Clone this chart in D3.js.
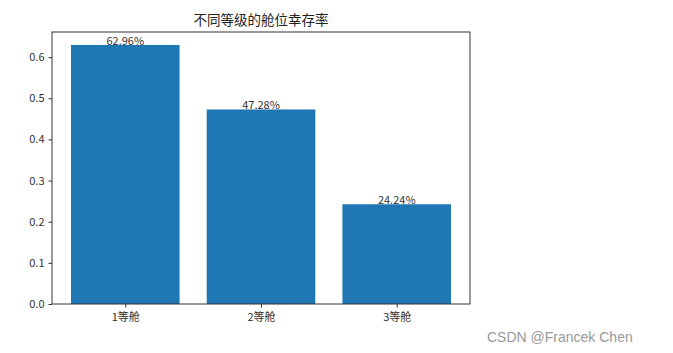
<!DOCTYPE html>
<html>
<head>
<meta charset="utf-8">
<script src="https://cdn.jsdelivr.net/npm/d3@7"></script>
<style>
  body { margin: 0; background: #fff; }
  svg { font-family: "Noto Sans CJK SC", "DejaVu Sans", sans-serif; }
</style>
</head>
<body>
<div id="chart"></div>
<script>
// data
const classes = ["1等舱", "2等舱", "3等舱"];
const rates = [0.6296, 0.4728, 0.2424];
const yTicks = [0.0, 0.1, 0.2, 0.3, 0.4, 0.5, 0.6];
const title = "不同等级的舱位幸存率";

const W = 673, H = 353;
const m = {left: 52, right: 203, top: 32, bottom: 49};
const iw = W - m.left - m.right, ih = H - m.top - m.bottom;

const svg = d3.select("#chart").append("svg")
  .attr("width", W).attr("height", H);

// matplotlib-like x range: bars at 0..2, width .8, 5% margins
let x = d3.scaleLinear().domain([-0.54, 2.54]).range([m.left, m.left + iw]);
let y = d3.scaleLinear().domain([0, d3.max(rates) * 1.05]).range([m.top + ih, m.top]);

svg.selectAll("rect.bar")
  .data(rates)
  .join("rect")
  .attr("class", "bar")
  .attr("x", (d, i) => x(i - 0.4))
  .attr("width", (d, i) => x(i + 0.4) - x(i - 0.4))
  .attr("y", d => y(d))
  .attr("height", d => y(0) - y(d))
  .attr("fill", "#1f77b4");

// value labels
svg.selectAll("text.val")
  .data(rates)
  .join("text")
  .attr("class", "val")
  .attr("x", (d, i) => x(i))
  .attr("y", d => y(d))
  .attr("text-anchor", "middle")
  .attr("font-size", 11)
  .attr("fill", "#333")
  .text(d => (d * 100).toFixed(2) + "%");

// axes
let yAxis = d3.axisLeft(y).tickValues(yTicks).tickSize(3.5).tickPadding(4)
  .tickFormat(d3.format(".1f"));
let gy = svg.append("g").attr("transform", `translate(${m.left},0)`).call(yAxis);

let xAxis = d3.axisBottom(x).tickValues([0, 1, 2]).tickSize(3.5).tickPadding(6)
  .tickFormat(i => classes[i]);
let gx = svg.append("g").attr("transform", `translate(0,${m.top + ih})`).call(xAxis);

[gx, gy].forEach(g => {
  g.select(".domain").remove();
  g.selectAll("text").attr("font-size", 11).attr("fill", "#333")
    .style("font-family", "'Noto Sans CJK SC', sans-serif");
  g.selectAll("line").attr("stroke", "#333");
});

// frame
svg.append("rect")
  .attr("x", m.left).attr("y", m.top)
  .attr("width", iw).attr("height", ih)
  .attr("fill", "none").attr("stroke", "#333").attr("stroke-width", 1);

svg.append("text")
  .attr("x", m.left + iw / 2).attr("y", m.top - 7)
  .attr("text-anchor", "middle")
  .attr("font-size", 13.5)
  .attr("fill", "#222")
  .text(title);

// watermark
svg.append("text")
  .attr("x", 487).attr("y", 342)
  .attr("font-size", 14)
  .attr("fill", "#999")
  .style("font-family", "Arial, 'Liberation Sans', sans-serif")
  .text("CSDN @Francek Chen");
</script>
</body>
</html>
